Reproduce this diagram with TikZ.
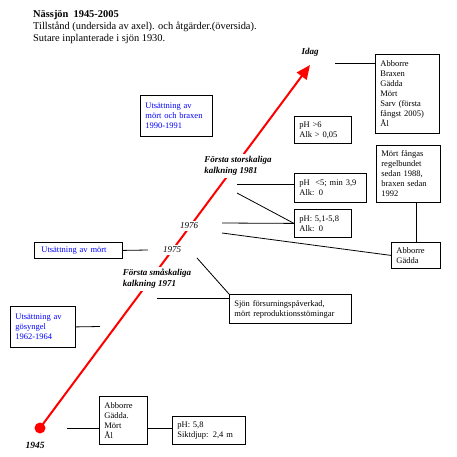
\documentclass[tikz,border=0pt]{standalone}
\usepackage{fontspec}
\setmainfont{Liberation Serif}
\usepackage{xcolor}
\usepackage{tikz}
\usetikzlibrary{calc,positioning,arrows.meta}
\definecolor{inkblue}{HTML}{0000FF}
\definecolor{trendred}{HTML}{FF0000}

\begin{document}
\begin{tikzpicture}[
  x=1pt, y=-1pt,
  fishbox/.style={
    draw, line width=0.8pt, fill=white, anchor=north west,
    align=left, inner xsep=5pt, inner ysep=3pt,
    font=\fontsize{8.5}{10}\selectfont,
  },
  stockbox/.style={fishbox, text=inkblue},
  yearlabel/.style={fill=white, inner sep=2pt, font=\fontsize{9}{11}\selectfont\itshape},
  eventlabel/.style={fill=white, inner sep=2pt, align=left, font=\fontsize{9}{11}\selectfont\bfseries\itshape},
  link/.style={line width=0.8pt},
  timeline/.style={draw=trendred, line width=2pt, -{Triangle[length=14pt,width=12pt]}},
]
\useasboundingbox (0,0) rectangle (457,456);

\node[anchor=north west, inner sep=0pt, align=left, font=\fontsize{10.4}{12}\selectfont] (title) at (33,10) {
  \textbf{Nässjön\ \ 1945-2005}\\
  Tillstånd (undersida av axel). och åtgärder.(översida).\\
  Sutare inplanterade i sjön 1930.
};

% time axis
\node[circle, fill=trendred, inner sep=0pt, minimum size=11pt] (start) at (40,428) {};
\coordinate (now) at (310,65);
\draw[timeline] (start.center) -- (now);

\node[eventlabel, inner sep=1pt] (idag) at (310,52) {Idag};
\node[eventlabel] (stor81) at (238,166) {Första storskaliga\\kalkning 1981};
\node[yearlabel] (y1976) at (189,226) {1976};
\node[yearlabel] (y1975) at (172,250) {1975};
\node[eventlabel] (sma71) at (157,279) {Första småskaliga\\kalkning 1971};
\node[eventlabel, font=\fontsize{9.5}{11}\selectfont\bfseries\itshape] (y1945) at (35,445) {1945};

% boxes
\node[fishbox, text width=54pt, minimum height=79pt] (fishnow) at (375,54) {Abborre\\Braxen\\Gädda\\Mört\\Sarv (första\\fångst 2005)\\Ål};
\node[fishbox, text width=47pt, minimum height=27pt] (phnow) at (294,116) {pH >6\\Alk > 0,05};
\node[stockbox, text width=62pt, minimum height=41pt] (stock90) at (140,95) {Utsättning av\\mört och braxen\\1990-1991};
\node[fishbox, text width=54pt, minimum height=57pt] (mortfangst) at (376,145) {Mört fångas\\regelbundet\\sedan 1988,\\braxen sedan\\1992};
\node[fishbox, text width=62pt, minimum height=29pt] (phlow) at (294,173) {pH\ \ <5; min 3,9\\Alk: 0};
\node[fishbox, text width=47pt, minimum height=28pt] (phmid) at (294,209) {pH: 5,1-5,8\\Alk: 0};
\node[fishbox, text width=39pt, minimum height=26pt] (fish76) at (391,242) {Abborre\\Gädda};
\node[stockbox, minimum height=16pt, inner xsep=7pt, text width=74pt] (stock75) at (34,242) {Utsättning av mört};
\node[fishbox, text width=112pt, minimum height=29pt] (sjon) at (229,294) {Sjön försurningspåverkad,\\mört reproduktionsstömingar};
\node[stockbox, text width=55pt, minimum height=41pt] (stock62) at (10,306) {Utsättning av\\gösyngel\\1962-1964};
\node[fishbox, text width=38pt, minimum height=48pt] (fish45) at (99,396) {Abborre\\Gädda.\\Mört\\Ål};
\node[fishbox, text width=63pt, minimum height=28pt] (ph45) at (172,416) {pH: 5,8\\Siktdjup: 2,4 m};

% connectors
\coordinate (cnow) at (335,63);
\coordinate (c81a) at (237,184);
\coordinate (c81b) at (237,193);
\coordinate (c76a) at (222,223);
\coordinate (c76b) at (222,233);
\coordinate (c75a) at (148,250);
\coordinate (c75b) at (197,258);
\coordinate (c71) at (157,298);
\coordinate (c62) at (100,326.5);
\coordinate (c45) at (67,428);

\draw[link] (cnow) -- (cnow -| fishnow.west);
\draw[link] (c81a) -- (c81a -| phlow.west);
\draw[link] (c81b) -- (phmid.west);
\draw[link] (c76a) -- (phmid.west);
\draw[link] (c76b) -- (fish76.west);
\draw[link] (fish76.north |- mortfangst.south) -- (fish76.north);
\draw[link] (stock75.east) -- (c75a);
\draw[link] (c75b) -- (sjon.north west);
\draw[link] (c71) -- (c71 -| sjon.west);
\draw[link] (stock62.east) -- (c62);
\draw[link] (c45) -- (c45 -| fish45.west);
\draw[link] (c45 -| fish45.east) -- (c45 -| ph45.west);

\end{tikzpicture}
\end{document}
